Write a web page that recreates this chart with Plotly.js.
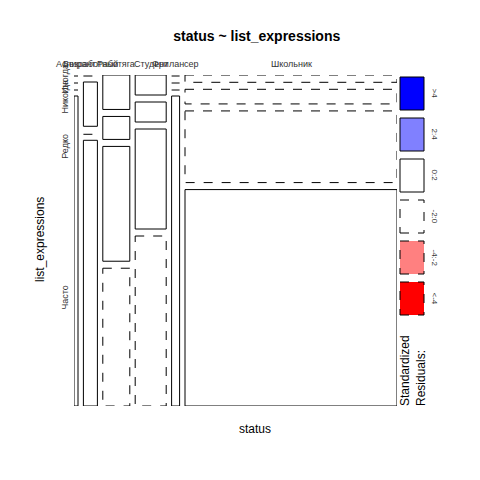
<!DOCTYPE html>
<html><head><meta charset="utf-8">
<script src="https://cdn.plot.ly/plotly-3.0.1.min.js"></script>
<style>body{margin:0}</style></head>
<body><div id="plot" style="width:480px;height:480px"></div>
<script>
const statuses = ["Аспирант", "Безработный", "Работяга", "Студент", "Фрилансер", "Школьник"];
const levels = ["Иногда", "Никогда", "Редко", "Часто"];
// counts[status][level]
const counts = [
  [0, 0, 0, 4],
  [0, 2, 0, 12],
  [3, 2, 10, 12],
  [2, 2, 10, 17],
  [0, 0, 0, 8],
  [5, 10, 49, 148]
];
const signs = [ // sign of standardized residual as drawn (1 solid, -1 dashed)
  [-1, -1, -1, 1],
  [-1, 1, -1, 1],
  [1, 1, 1, -1],
  [1, 1, 1, -1],
  [-1, -1, -1, 1],
  [-1, -1, -1, 1]
];
const legendLabels = [">4", "2:4", "0:2", "-2:0", "-4:-2", "<-4"];
const legendFills = ["#0000ff", "#8080ff", "#ffffff", "#ffffff", "#ff8080", "#ff0000"];

const pw = 323, ph = 331;
const px = v => v / pw, py = v => 1 - v / ph;  // data -> paper
const gapX = 5.4, gapY = 7, rowSpace = 310;
const shapes = [], annotations = [];
let x0 = 0;
counts.forEach((col, i) => {
  const tot = col.reduce((a, b) => a + b, 0);
  const w = tot;
  let y = 0;
  col.forEach((c, j) => {
    const h = c / tot * rowSpace;
    const dash = signs[i][j] < 0 ? "dash" : "solid";
    if (c === 0) {
      shapes.push({type: "line", x0: x0, x1: x0 + w, y0: y + 1, y1: y + 1,
        line: {color: "black", width: 1, dash: dash}});
    } else {
      shapes.push({type: "rect", x0: x0, x1: x0 + w, y0: y, y1: y + h,
        fillcolor: "white", line: {color: "black", width: 1, dash: dash}});
    }
    y += h + gapY;
  });
  annotations.push({x: px(x0 + w / 2), y: py(-11), xref: "paper", yref: "paper", text: statuses[i],
    showarrow: false, xanchor: "center", yanchor: "middle", font: {size: 9, color: "#333"}});
  x0 += w + gapX;
});
// left labels from last column proportions
{
  const col = counts[5], tot = col.reduce((a, b) => a + b, 0);
  let y = 0;
  col.forEach((c, j) => {
    const h = c / tot * rowSpace;
    annotations.push({x: px(-9), y: py(y + h / 2), xref: "paper", yref: "paper", text: levels[j],
      showarrow: false, textangle: -90, xanchor: "center", yanchor: "middle",
      font: {size: 9, color: "#333"}});
    y += h + gapY;
  });
}
legendLabels.forEach((l, k) => {
  const top = 77 + k * 41, bot = top + 33;
  shapes.push({type: "rect", xref: "paper", yref: "paper",
    x0: (400 - 74) / pw, x1: (424 - 74) / pw, y0: (406 - bot) / ph, y1: (406 - top) / ph,
    fillcolor: legendFills[k], line: {color: "black", width: 1, dash: k >= 3 ? "dash" : "solid"}});
  annotations.push({xref: "paper", yref: "paper", x: (434 - 74) / pw, y: (406 - (top + bot) / 2) / ph,
    text: l, showarrow: false, textangle: 90, xanchor: "center", yanchor: "middle",
    font: {size: 8, color: "#333"}});
});
annotations.push({xref: "paper", yref: "paper", x: (413 - 74) / pw, y: (406 - 370) / ph,
  text: "Standardized<br>Residuals:", showarrow: false, textangle: -90, align: "left",
  xanchor: "center", yanchor: "middle", font: {size: 12, color: "#000"}});

Plotly.newPlot("plot", [{x: [0], y: [0], mode: "markers", marker: {opacity: 0}, hoverinfo: "skip"}], {
  width: 480, height: 480,
  margin: {l: 74, r: 83, t: 75, b: 74},
  font: {family: "Liberation Sans, Arial, sans-serif"},
  showlegend: false,
  paper_bgcolor: "white", plot_bgcolor: "white",
  title: {text: "<b>status ~ list_expressions</b>", x: 0.535, y: 0.935, font: {size: 14, color: "#000"}},
  xaxis: {range: [0, 323], visible: false, fixedrange: true},
  yaxis: {range: [331, 0], visible: false, fixedrange: true},
  shapes: shapes,
  annotations: annotations.concat([
    {xref: "paper", yref: "paper", x: px(181), y: py(354), text: "status", showarrow: false,
      xanchor: "center", yanchor: "middle", font: {size: 12, color: "#000"}},
    {xref: "paper", yref: "paper", x: px(-34), y: py(165), text: "list_expressions", showarrow: false,
      textangle: -90, xanchor: "center", yanchor: "middle", font: {size: 12, color: "#000"}}
  ])
}, {staticPlot: true});
</script></body></html>
